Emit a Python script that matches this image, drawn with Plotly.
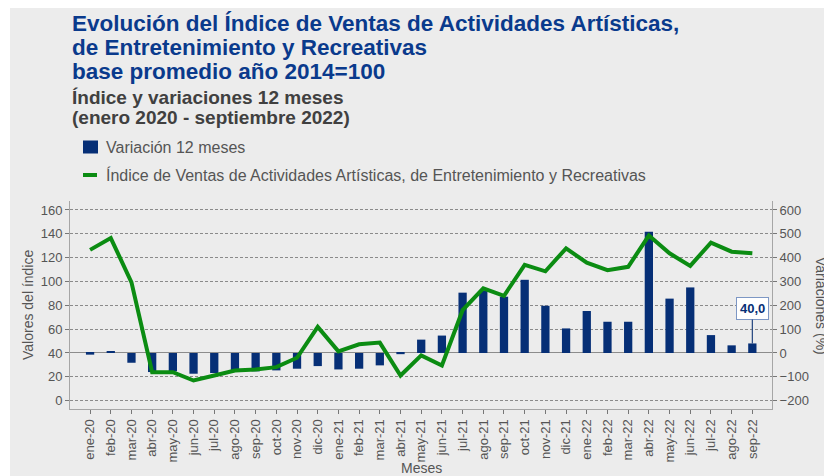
import plotly.graph_objects as go

# datos
meses = [
    "ene-20", "feb-20", "mar-20", "abr-20", "may-20", "jun-20", "jul-20", "ago-20",
    "sep-20", "oct-20", "nov-20", "dic-20", "ene-21", "feb-21", "mar-21", "abr-21",
    "may-21", "jun-21", "jul-21", "ago-21", "sep-21", "oct-21", "nov-21", "dic-21",
    "ene-22", "feb-22", "mar-22", "abr-22", "may-22", "jun-22", "jul-22", "ago-22",
    "sep-22",
]

# indice base 2014=100 (eje izquierdo)
indice = [
    126.5, 136.4, 99.3, 23.9, 23.9, 16.9, 21.1, 25.3, 26.2, 28.1, 36.0, 61.9,
    41.4, 47.3, 48.7, 21.1, 38.0, 29.5, 75.9, 94.2, 88.0, 113.9, 108.5, 127.8,
    115.7, 109.5, 112.3, 138.5, 123.6, 113.1, 132.6, 125.0, 123.6,
]

# variacion 12 meses en % (eje derecho)
variacion = [
    -7, 7, -41, -80, -77, -87, -84, -77, -77, -73, -66, -55,
    -69, -66, -52, -5, 56, 73, 253, 262, 236, 307, 198, 103,
    176, 131, 131, 509, 228, 275, 75, 32, 40,
]

etiqueta_ultimo = "40,0"

titulo = [
    "Evolución del Índice de Ventas de Actividades Artísticas,",
    "de Entretenimiento y Recreativas",
    "base promedio año 2014=100",
]
subtitulo = [
    "Índice y variaciones 12 meses",
    "(enero 2020 - septiembre 2022)",
]
nombre_barras = "Variación 12 meses"
nombre_linea = "Índice de Ventas de Actividades Artísticas, de Entretenimiento y Recreativas"

FONT = "Arial, Liberation Sans, sans-serif"
AZUL = "#0a3a8c"
BARRA = "#062f76"
VERDE = "#0b8c12"
GRIS_TXT = "#555555"
FONDO = "#ececec"

# la pagina tiene 8px de margen en el body
OFF = 8
W, H = 832, 476
T, L = 201 - OFF, 70 - OFF
R = W - (772 - OFF)
B = H - (409 - OFF)
PH = H - T - B
PW = W - L - R


def py(p):
    # pixel de la pagina -> coordenada paper
    return (H - B - (p - OFF)) / PH


def px(p):
    return (p - OFF - L) / PW


fig = go.Figure()

# barras en eje "y" (lado derecho), linea en "y2" para que quede encima
fig.add_trace(go.Bar(
    x=meses, y=variacion, name=nombre_barras,
    marker=dict(color=BARRA, line=dict(width=0)), width=0.4,
    yaxis="y",
))
fig.add_trace(go.Scatter(
    x=meses, y=indice, mode="lines", name=nombre_linea,
    line=dict(color=VERDE, width=4), yaxis="y2",
))

anns = []
for t, yc in zip(titulo, [24, 47.5, 71]):
    anns.append(dict(xref="paper", yref="paper", x=px(70), y=py(yc), xanchor="left", yanchor="middle",
                     text="<b>%s</b>" % t, showarrow=False,
                     font=dict(family=FONT, size=22.5, color=AZUL)))
for t, yc in zip(subtitulo, [97.5, 117]):
    anns.append(dict(xref="paper", yref="paper", x=px(70), y=py(yc), xanchor="left", yanchor="middle",
                     text="<b>%s</b>" % t, showarrow=False,
                     font=dict(family=FONT, size=19, color="#404040")))

# leyenda hecha a mano (simbolo corto como en el original)
for t, yc in [(nombre_barras, 147), (nombre_linea, 175)]:
    anns.append(dict(xref="paper", yref="paper", x=px(104), y=py(yc), xanchor="left", yanchor="middle",
                     text=t, showarrow=False,
                     font=dict(family=FONT, size=16, color=GRIS_TXT)))

# titulos de ejes
anns.append(dict(xref="paper", yref="paper", x=px(28), y=py(305), textangle=-90,
                 xanchor="center", yanchor="middle",
                 text="Valores del índice", showarrow=False,
                 font=dict(family=FONT, size=14, color=GRIS_TXT)))
anns.append(dict(xref="paper", yref="paper", x=px(821), y=py(306), textangle=90,
                 xanchor="center", yanchor="middle",
                 text="Variaciones (%)", showarrow=False,
                 font=dict(family=FONT, size=14, color=GRIS_TXT)))
anns.append(dict(xref="paper", yref="paper", x=px(421), y=py(468),
                 xanchor="center", yanchor="middle",
                 text="Meses", showarrow=False,
                 font=dict(family=FONT, size=14, color=GRIS_TXT)))

# etiqueta del ultimo dato
anns.append(dict(xref="x", yref="y", x=meses[-1], y=variacion[-1],
                 text="<b>%s</b>" % etiqueta_ultimo, showarrow=True, arrowhead=0,
                 arrowwidth=1.2, arrowcolor="#23457f", ax=0, ay=-35,
                 bgcolor="white", bordercolor="#7d97c4", borderwidth=1, borderpad=3,
                 font=dict(family=FONT, size=13, color=BARRA)))

shapes = [
    dict(type="rect", xref="paper", yref="paper", layer="below",
         x0=px(10), x1=px(850), y0=py(495), y1=py(6),
         fillcolor=FONDO, line=dict(width=0)),
    dict(type="rect", xref="paper", yref="paper",
         x0=px(83), x1=px(98), y0=py(153.5), y1=py(140.5),
         fillcolor=BARRA, line=dict(width=0)),
    dict(type="line", xref="paper", yref="paper",
         x0=px(83), x1=px(97), y0=py(175), y1=py(175),
         line=dict(color=VERDE, width=4)),
]

fig.update_layout(
    width=W, height=H, autosize=False,
    margin=dict(l=L, r=R, t=T, b=B, autoexpand=False),
    paper_bgcolor="white", plot_bgcolor="rgba(0,0,0,0)",
    font=dict(family=FONT, size=13, color=GRIS_TXT),
    showlegend=False,
    annotations=anns,
    shapes=shapes,
    xaxis=dict(type="category", range=[-0.97, 32.95], tickangle=-90,
               ticks="outside", ticklen=4, tickcolor="#777777",
               showline=True, linecolor="#a6a6a6", showgrid=False,
               tickfont=dict(family=FONT, size=13, color=GRIS_TXT)),
    yaxis=dict(side="right", range=[-235, 637.5], tick0=0, dtick=100,
               showgrid=False, zeroline=True, zerolinecolor="#8c8c8c", zerolinewidth=1,
               showline=True, linecolor="#a6a6a6", ticks="outside", ticklen=4,
               tickcolor="#777777", tickfont=dict(family=FONT, size=13, color=GRIS_TXT)),
    yaxis2=dict(overlaying="y", side="left", range=[-7, 167.5], tick0=0, dtick=20,
                showgrid=True, gridcolor="#8a8a8a", griddash="3px,2px", gridwidth=1,
                zeroline=False, showline=True, linecolor="#a6a6a6",
                ticks="outside", ticklen=4, tickcolor="#777777",
                tickfont=dict(family=FONT, size=13, color=GRIS_TXT)),
)

fig.write_html("out.html")
